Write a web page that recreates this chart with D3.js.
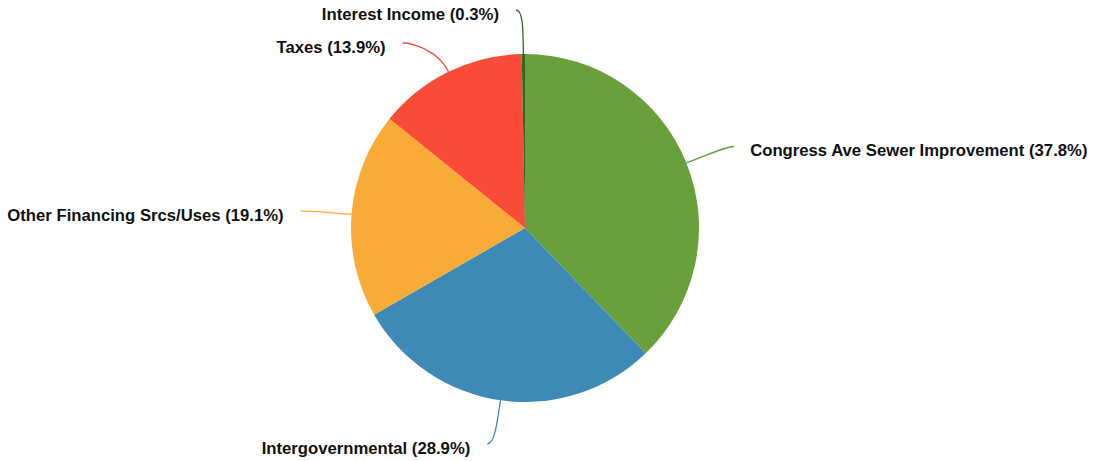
<!DOCTYPE html>
<html><head><meta charset="utf-8">
<script src="https://cdn.jsdelivr.net/npm/d3@7"></script>
<style>body{margin:0;background:#fff}svg{display:block}</style>
</head><body>
<script>
const categories = ["Congress Ave Sewer Improvement","Intergovernmental","Other Financing Srcs/Uses","Taxes","Interest Income"];
const values = [37.8, 28.9, 19.1, 13.9, 0.3];
const colors = ["#69a03b","#3c8ab5","#f8ab37","#f94b37","#2e6a1e"];

const W = 1095, H = 461, cx = 525, cy = 228, R = 174, RL = 218, RC = 200, EXT = 7;
const svg = d3.select("body").append("svg").attr("width", W).attr("height", H);
const g = svg.append("g").attr("transform", `translate(${cx},${cy})`);

const data = categories.map((c,i)=>({name:c, value:values[i], color:colors[i]}));
const pie = d3.pie().value(d=>d.value).sort(null);
const arcs = pie(data);
const arc = d3.arc().innerRadius(0).outerRadius(R);

g.selectAll("path.slice").data(arcs).join("path").attr("class","slice")
  .attr("d", arc).attr("fill", d=>d.data.color);

const pt = (a, r) => [r*Math.sin(a), -r*Math.cos(a)];
arcs.forEach(d=>{ d.mid=(d.startAngle+d.endAngle)/2; d.base=pt(d.mid, RL); d.right = Math.sin(d.mid) >= 0; });

// simple collision resolution on each side (top to bottom)
const gap = 33;
[true,false].forEach(side=>{
  const s = arcs.filter(d=>d.right===side).sort((a,b)=>a.base[1]-b.base[1]);
  for(let i=1;i<s.length;i++){
    if(s[i].base[1] - s[i-1].base[1] < gap){
      const y = s[i-1].base[1] + gap;
      const x = Math.sqrt(Math.max(0, RL*RL - y*y)) * (side?1:-1);
      s[i].base = [x, y];
    }
  }
});
arcs.forEach(d=>{ d.anchor = [d.base[0] + (d.right?EXT:-EXT), d.base[1]]; });

g.selectAll("path.leader").data(arcs).join("path").attr("class","leader")
  .attr("fill","none").attr("stroke", d=>d.data.color).attr("stroke-width",1.3)
  .attr("d", d=>{
    const p0 = pt(d.mid, R), c1 = pt(d.mid, RC), c2 = d.base, p1 = d.anchor;
    return `M${p0[0]},${p0[1]}C${c1[0]},${c1[1]} ${c2[0]},${c2[1]} ${p1[0]},${p1[1]}`;
  });

g.selectAll("text.lbl").data(arcs).join("text").attr("class","lbl")
  .attr("x", d=>d.anchor[0] + (d.right?16:-17))
  .attr("y", d=>d.anchor[1] + 10)
  .attr("text-anchor", d=>d.right?"start":"end")
  .style("font-family","'Liberation Sans', Arial, Helvetica, sans-serif")
  .style("font-weight","bold").style("font-size","16.7px").attr("fill","#111")
  .text(d=>`${d.data.name} (${d.data.value.toFixed(1)}%)`);
</script>
</body></html>
